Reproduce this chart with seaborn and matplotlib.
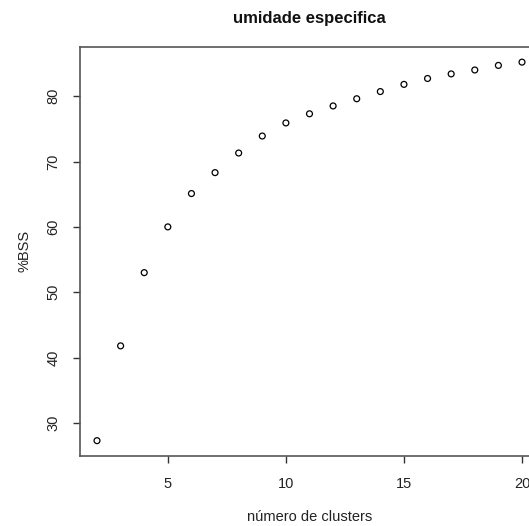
import matplotlib
matplotlib.use("Agg")
import matplotlib.pyplot as plt
import seaborn as sns
import pandas as pd

clusters = [2, 3, 4, 5, 6, 7, 8, 9, 10, 11, 12, 13, 14, 15, 16, 17, 18, 19, 20]
bss = [27.3, 41.8, 53.0, 60.0, 65.1, 68.3, 71.3, 73.9, 75.9, 77.3, 78.5, 79.6,
       80.7, 81.8, 82.7, 83.4, 84.0, 84.7, 85.2]
xticks = [5, 10, 15, 20]
yticks = [30, 40, 50, 60, 70, 80]

df = pd.DataFrame({"clusters": clusters, "bss": bss})

sns.set_theme(style="white")
plt.rcParams["font.family"] = ["Liberation Sans", "DejaVu Sans"]

fig = plt.figure(figsize=(5.29, 5.26), dpi=100)
ax = fig.add_axes([80 / 529, 1 - 455.8 / 526, (539 - 80) / 529, (455.8 - 47) / 526])

sns.scatterplot(data=df, x="clusters", y="bss", ax=ax, marker="o", s=18,
                facecolor="none", edgecolor="black", linewidth=0.9, legend=False)

xr = max(clusters) - min(clusters)
yr = max(bss) - min(bss)
ax.set_xlim(min(clusters) - 0.04 * xr, max(clusters) + 0.04 * xr)
ax.set_ylim(min(bss) - 0.04 * yr, max(bss) + 0.04 * yr)
ax.set_xticks(xticks)
ax.set_yticks(yticks)
ax.set_xticklabels([str(t) for t in xticks])
ax.set_yticklabels([str(t) for t in yticks], rotation=90, va="center")

for sp in ax.spines.values():
    sp.set_color("#555555")
    sp.set_linewidth(1.2)

ax.tick_params(axis="both", which="both", direction="out", length=5, width=1,
               color="#333333", labelsize=10.5, labelcolor="#222222",
               bottom=True, left=True)
ax.tick_params(axis="x", pad=10)
ax.tick_params(axis="y", pad=9)

ax.set_xlabel("número de clusters", fontsize=10.5, color="#222222", labelpad=14)
ax.set_ylabel("%BSS", fontsize=10.5, color="#222222", labelpad=11)
ax.set_title("umidade especifica", fontsize=12, fontweight="bold",
             color="#111111", pad=17)

fig.savefig("out.png", dpi=100)
